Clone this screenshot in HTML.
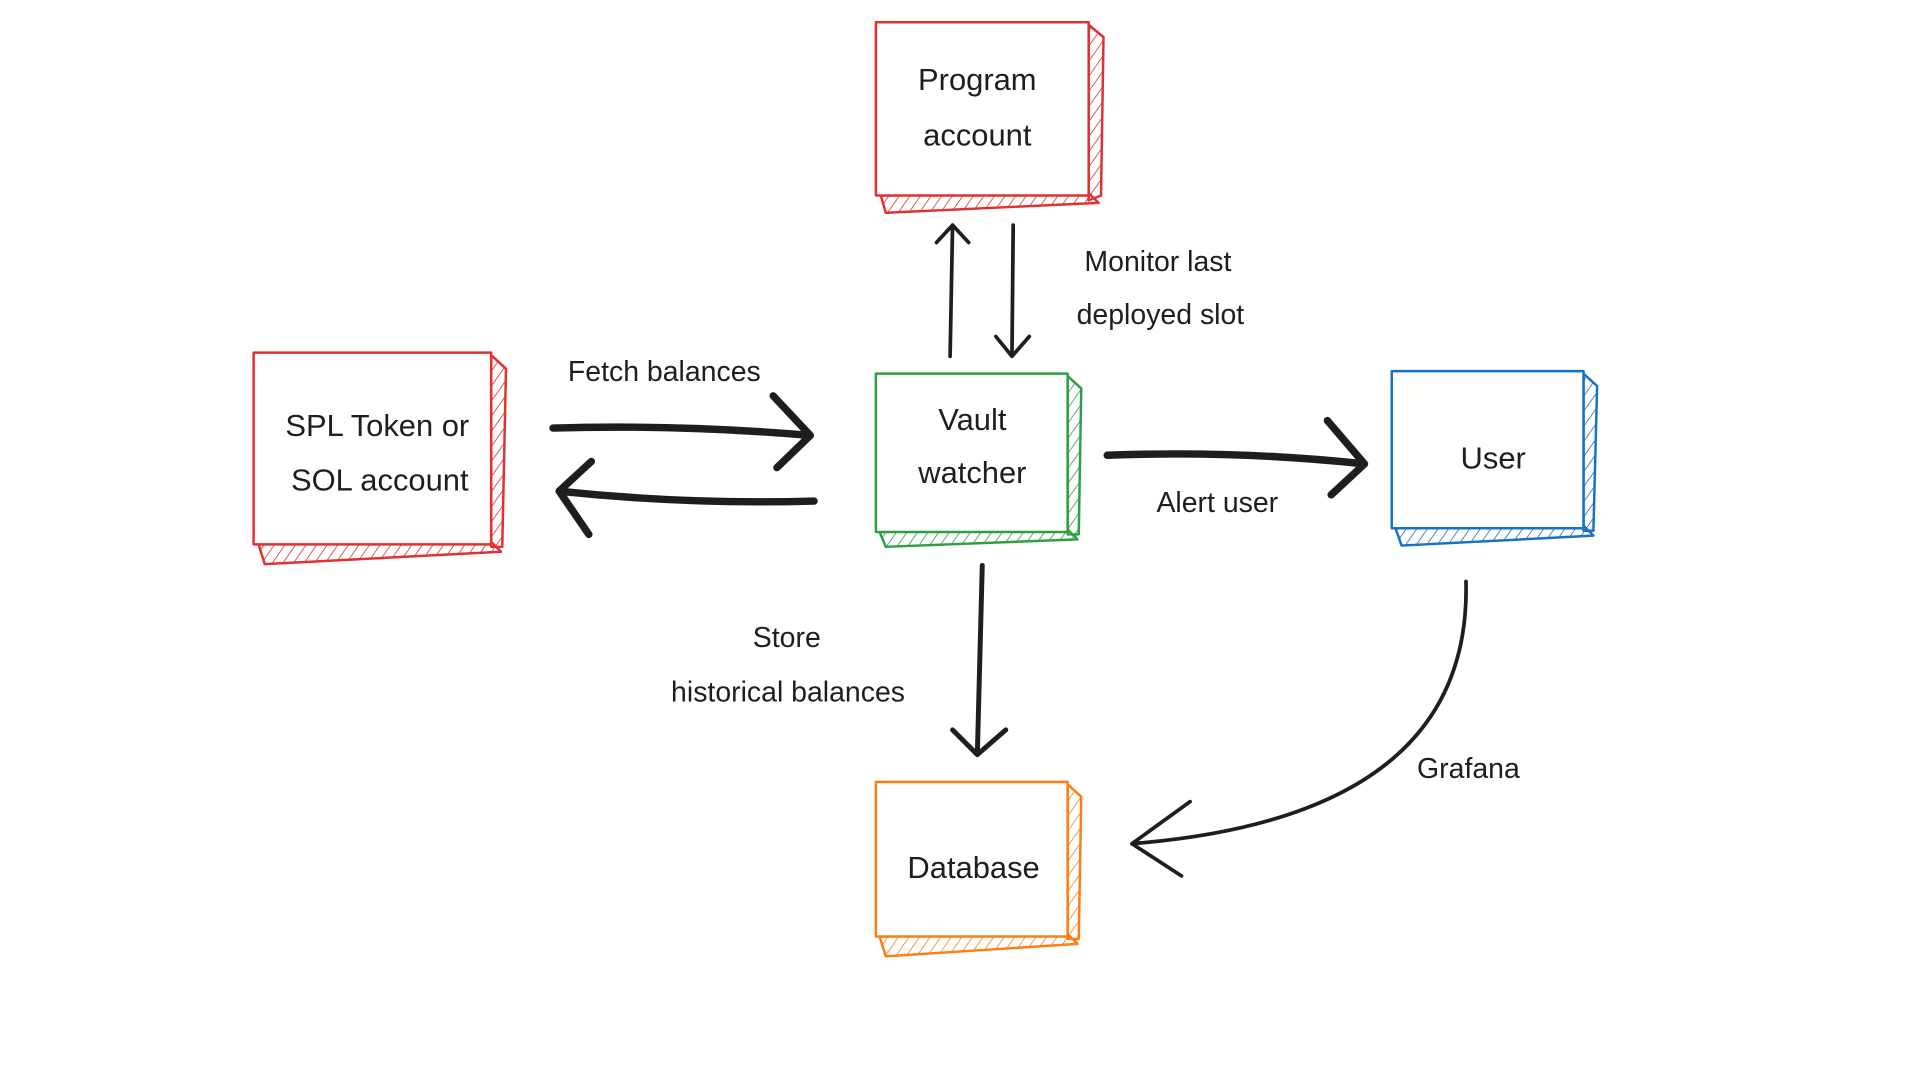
<!DOCTYPE html>
<html><head><meta charset="utf-8"><style>
html,body{margin:0;padding:0;background:#fff;}
svg{display:block}
text{font-family:"Liberation Sans",sans-serif;font-size:25px;fill:#1e1e1e;text-anchor:middle;dominant-baseline:middle}
</style></head><body>
<svg width="1920" height="1080" viewBox="0 0 1552 873" xmlns="http://www.w3.org/2000/svg">
<defs>
<pattern id="hr" width="7" height="7" patternUnits="userSpaceOnUse" patternTransform="rotate(35)"><line x1="0" y1="0" x2="0" y2="7" stroke="#e03131" stroke-width="1.3"/></pattern>
<pattern id="hg" width="7" height="7" patternUnits="userSpaceOnUse" patternTransform="rotate(35)"><line x1="0" y1="0" x2="0" y2="7" stroke="#2f9e44" stroke-width="1.3"/></pattern>
<pattern id="hb" width="7" height="7" patternUnits="userSpaceOnUse" patternTransform="rotate(35)"><line x1="0" y1="0" x2="0" y2="7" stroke="#1971c2" stroke-width="1.3"/></pattern>
<pattern id="ho" width="7" height="7" patternUnits="userSpaceOnUse" patternTransform="rotate(35)"><line x1="0" y1="0" x2="0" y2="7" stroke="#fd7e14" stroke-width="1.3"/></pattern>
</defs>
<rect width="1552" height="873" fill="#fff"/>
<!-- Program account -->
<g stroke="#e03131" stroke-width="2" fill="url(#hr)" stroke-linejoin="round">
<polygon points="880,20 892,30 890,158 880,162"/>
<polygon points="712,158 880,156 888,164 716,172"/>
<rect x="708" y="18" width="172" height="140" fill="#fff"/>
</g>
<!-- SPL -->
<g stroke="#e03131" stroke-width="2" fill="url(#hr)" stroke-linejoin="round">
<polygon points="397,287 409,298 406,442 397,442"/>
<polygon points="209,440 397,438 405,446 214,456"/>
<rect x="205" y="285" width="192" height="155" fill="#fff"/>
</g>
<!-- Vault -->
<g stroke="#2f9e44" stroke-width="2" fill="url(#hg)" stroke-linejoin="round">
<polygon points="863,304 874,314 872,432 863,432"/>
<polygon points="711,430 863,428 871,436 716,442"/>
<rect x="708" y="302" width="155" height="128" fill="#fff"/>
</g>
<!-- User -->
<g stroke="#1971c2" stroke-width="2" fill="url(#hb)" stroke-linejoin="round">
<polygon points="1280,302 1291,312 1288,429 1280,429"/>
<polygon points="1128,427 1280,425 1288,433 1133,441"/>
<rect x="1125" y="300" width="155" height="127" fill="#fff"/>
</g>
<!-- Database -->
<g stroke="#fd7e14" stroke-width="2" fill="url(#ho)" stroke-linejoin="round">
<polygon points="863,634 874,644 872,759 863,759"/>
<polygon points="711,757 863,755 871,763 716,773"/>
<rect x="708" y="632" width="155" height="125" fill="#fff"/>
</g>
<!-- arrows -->
<g stroke="#1e1e1e" fill="none" stroke-linecap="round" stroke-linejoin="round">
<path d="M768,288 L770,182 M757,196 L770,182 L783,196" stroke-width="3"/>
<path d="M819,182 L818,288 M805,272 L818,288 L832,272" stroke-width="3"/>
<path d="M447,346 Q550,343 655,352 M625,320 L655,352 L628,378" stroke-width="6"/>
<path d="M658,405 Q555,408 452,397 M478,373 L452,397 L476,432" stroke-width="6"/>
<path d="M895,368 Q1000,364 1103,375 M1073,340 L1103,375 L1076,400" stroke-width="6"/>
<path d="M794,457 L790,610 M770,590 L790,610 L813,590" stroke-width="4"/>
<path d="M1185,470 Q1190,660 915,682 M962,648 L915,682 L955,708" stroke-width="3"/>
</g>
<!-- labels -->
<text x="790" y="66">Program</text>
<text x="790" y="111">account</text>
<text x="305" y="346">SPL Token or</text>
<text x="307" y="390">SOL account</text>
<text x="786" y="341">Vault</text>
<text x="786" y="384">watcher</text>
<text x="1207" y="372">User</text>
<text x="787" y="703">Database</text>
<text x="537" y="302" style="font-size:23px">Fetch balances</text>
<text x="936" y="213" style="font-size:23px">Monitor last</text>
<text x="938" y="256" style="font-size:23px">deployed slot</text>
<text x="984" y="408" style="font-size:23px">Alert user</text>
<text x="636" y="517" style="font-size:23px">Store</text>
<text x="637" y="561" style="font-size:23px">historical balances</text>
<text x="1187" y="623" style="font-size:23px">Grafana</text>
</svg>
</body></html>
